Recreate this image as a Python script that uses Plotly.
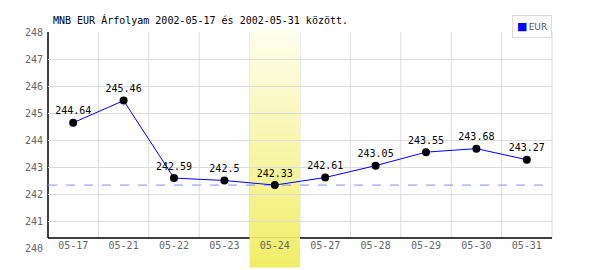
import plotly.graph_objects as go

dates = ["05-17", "05-21", "05-22", "05-23", "05-24", "05-27", "05-28", "05-29", "05-30", "05-31"]
eur = [244.64, 245.46, 242.59, 242.5, 242.33, 242.61, 243.05, 243.55, 243.68, 243.27]
highlight = "05-24"
title = "MNB EUR Árfolyam 2002-05-17 és 2002-05-31 között."
series_name = "EUR"
y_min, y_max = 240, 248

W, H = 600, 270
ML, MR, MT, MB = 48, 48, 32, 22
plot_h = H - MT - MB
n = len(dates)
axis_py = 10 / plot_h  # x axis line sits a bit above the bottom gridline

mono = "DejaVu Sans Mono"

fig = go.Figure()
fig.add_trace(go.Scatter(
    x=dates, y=eur, mode="lines+markers+text",
    text=[str(v) for v in eur], textposition="top center",
    textfont=dict(family=mono, size=10, color="black"),
    line=dict(color="#0000ff", width=1),
    marker=dict(color="black", size=8),
    cliponaxis=False, showlegend=False, name=series_name,
))

shapes = []
# vertical grid lines at category boundaries
for i in range(1, n + 1):
    shapes.append(dict(type="line", xref="paper", yref="paper",
                       x0=i / n, x1=i / n, y0=axis_py, y1=1,
                       line=dict(color="#dcdcdc", width=1), layer="between"))
# black axis lines
shapes.append(dict(type="line", xref="paper", yref="paper", x0=0, x1=1,
                   y0=axis_py, y1=axis_py, line=dict(color="black", width=1.5), layer="between"))
shapes.append(dict(type="line", xref="paper", yref="paper", x0=0, x1=0,
                   y0=axis_py, y1=1, line=dict(color="black", width=1.5), layer="between"))
# highlighted day band with vertical gradient
hi = dates.index(highlight)
top_p = (H - MB - 30) / plot_h
bot_p = (H - MB - 267) / plot_h
steps = 40
c_top = (254, 254, 238)
c_bot = (240, 238, 100)
for k in range(steps):
    t0 = k / steps
    t1 = (k + 1) / steps
    tm = (t0 + t1) / 2
    col = tuple(round(c_top[j] + (c_bot[j] - c_top[j]) * tm) for j in range(3))
    shapes.append(dict(type="rect", xref="paper", yref="paper",
                       x0=hi / n, x1=(hi + 1) / n,
                       y0=top_p - (top_p - bot_p) * t1 - 0.002,
                       y1=top_p - (top_p - bot_p) * t0,
                       fillcolor="rgb(%d,%d,%d)" % col, line=dict(width=0), layer="between"))
# dashed line at minimum
shapes.append(dict(type="line", xref="paper", yref="y", x0=0, x1=1,
                   y0=min(eur), y1=min(eur),
                   line=dict(color="#8888ff", width=1, dash="dash"), layer="between"))

fig.update_layout(
    width=W, height=H,
    margin=dict(l=ML, r=MR, t=MT, b=MB, pad=0),
    paper_bgcolor="white", plot_bgcolor="white",
    shapes=shapes,
    title=dict(text=title, x=(53 - ML) / (W - ML - MR), xref="paper", xanchor="left",
               y=1 - 20 / H, yref="container", yanchor="middle",
               font=dict(family=mono, size=10, color="black")),
    xaxis=dict(type="category", range=[-0.5, n - 0.5], showgrid=False, showline=False,
               zeroline=False, ticks="", ticklabelstandoff=-10,
               tickfont=dict(family=mono, size=10, color="#666666")),
    yaxis=dict(range=[y_min, y_max], dtick=1, showgrid=True, gridcolor="#dcdcdc",
               gridwidth=1, zeroline=False, showline=False, ticks="",
               ticklabelstandoff=4,
               tickfont=dict(family=mono, size=10, color="#666666")),
    annotations=[dict(text="<span style='color:#0000ff;font-size:11px'>■</span><span style='font-size:4px'> </span>" + series_name,
                      xref="paper", yref="paper", x=1, y=(H - MB - 15) / plot_h,
                      xanchor="right", yanchor="top", showarrow=False,
                      font=dict(family="DejaVu Sans", size=9, color="#555555"),
                      bordercolor="#dcdcdc", borderwidth=1, borderpad=4,
                      bgcolor="white", align="left")],
)

fig.write_html("out.html")
